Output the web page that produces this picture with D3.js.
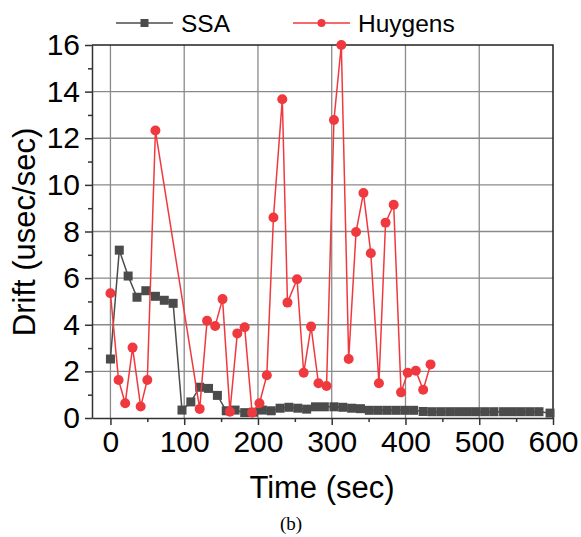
<!DOCTYPE html>
<html>
<head>
<meta charset="utf-8">
<script src="https://cdn.jsdelivr.net/npm/d3@7"></script>
<style>
  body { margin: 0; background: #fff; }
  text { font-family: "Liberation Sans", Arial, sans-serif; }
</style>
</head>
<body>
<script>
// SSA samples (every ~12 s)
var ssaTime = [0, 12, 24, 36, 48, 61, 73, 85, 97, 109, 121, 133, 145, 157, 169, 182, 194, 206, 218, 230,
  242, 254, 266, 278, 290, 303, 315, 327, 339, 351, 363, 375, 387, 399, 411, 424, 436, 448, 460, 472,
  484, 496, 508, 520, 533, 545, 557, 569, 581, 596];
var ssaDrift = [2.53, 7.2, 6.09, 5.18, 5.46, 5.22, 5.05, 4.92, 0.34, 0.69, 1.32, 1.27, 0.97, 0.31, 0.34, 0.23, 0.25, 0.34, 0.31, 0.42,
  0.46, 0.42, 0.38, 0.48, 0.48, 0.48, 0.46, 0.42, 0.4, 0.33, 0.33, 0.33, 0.33, 0.33, 0.33, 0.28, 0.27, 0.27, 0.27, 0.27,
  0.27, 0.27, 0.27, 0.27, 0.27, 0.27, 0.27, 0.27, 0.27, 0.21];

// Huygens samples
var huyTime = [0, 11, 20, 30, 41, 50, 61, 121, 131, 142, 152, 162, 172, 182, 192, 202, 212, 221, 233, 240,
  253, 262, 272, 282, 293, 303, 313, 323, 333, 343, 353, 364, 373, 384, 394, 403, 414, 424, 434];
var huyDrift = [5.35, 1.63, 0.63, 3.02, 0.49, 1.63, 12.33, 0.39, 4.17, 3.95, 5.1, 0.27, 3.63, 3.89, 0.23, 0.63, 1.83, 8.6, 13.67, 4.95,
  5.95, 1.94, 3.92, 1.49, 1.37, 12.78, 16.0, 2.53, 7.98, 9.65, 7.07, 1.49, 8.38, 9.15, 1.1, 1.94, 2.03, 1.21, 2.3];

var xTicks = [0, 100, 200, 300, 400, 500, 600];
var yTicks = [0, 2, 4, 6, 8, 10, 12, 14, 16];

var opts = {width: 581, height: 537, left: 92, right: 553, top: 45, bottom: 418};
var ssaColor = '#4b4b4b', huyColor = '#f0393e';

var svg = d3.select('body').append('svg')
  .attr('width', opts.width)
  .attr('height', opts.height);

var x = d3.scaleLinear().domain([-25, 600]).range([opts.left, opts.right]);
var y = d3.scaleLinear().domain([0, 16]).range([opts.bottom, opts.top]);

// grid
svg.append('g').selectAll('line.gx')
  .data(xTicks.slice(0, -1))
  .enter().append('line')
  .attr('x1', function(d) {return x(d);}).attr('x2', function(d) {return x(d);})
  .attr('y1', opts.top).attr('y2', opts.bottom)
  .attr('stroke', '#8a8a8a').attr('stroke-width', 1.3);
svg.append('g').selectAll('line.gy')
  .data(yTicks.slice(1, -1))
  .enter().append('line')
  .attr('y1', function(d) {return y(d);}).attr('y2', function(d) {return y(d);})
  .attr('x1', opts.left).attr('x2', opts.right)
  .attr('stroke', '#8a8a8a').attr('stroke-width', 1.3);

// frame top / right
svg.append('path')
  .attr('d', 'M' + opts.left + ',' + opts.top + 'H' + opts.right + 'V' + opts.bottom)
  .attr('fill', 'none').attr('stroke', '#222').attr('stroke-width', 1.5);

// axes
var xAxis = svg.append('g').attr('transform', 'translate(0,' + opts.bottom + ')')
  .call(d3.axisBottom(x).tickValues(xTicks).tickSize(7).tickSizeOuter(0).tickPadding(6));
svg.append('g').attr('transform', 'translate(0,' + opts.bottom + ')')
  .call(d3.axisBottom(x).tickValues([50, 150, 250, 350, 450, 550]).tickSize(4).tickFormat('').tickSizeOuter(0))
  .select('.domain').remove();
var yAxis = svg.append('g').attr('transform', 'translate(' + opts.left + ',0)')
  .call(d3.axisLeft(y).tickValues(yTicks).tickSize(7).tickSizeOuter(0).tickPadding(5));
svg.append('g').attr('transform', 'translate(' + opts.left + ',0)')
  .call(d3.axisLeft(y).tickValues([1, 3, 5, 7, 9, 11, 13, 15]).tickSize(4).tickFormat('').tickSizeOuter(0))
  .select('.domain').remove();

svg.selectAll('.domain, .tick line').attr('stroke', '#333').attr('stroke-width', 1.5);
xAxis.selectAll('text').attr('font-size', 30).attr('fill', '#000')
  .attr('font-family', '"Liberation Sans", Arial, sans-serif');
yAxis.selectAll('text').attr('font-size', 30).attr('fill', '#000')
  .attr('font-family', '"Liberation Sans", Arial, sans-serif');

// series
var ssa = ssaTime.map(function(t, i) {return [t, ssaDrift[i]];});
var huy = huyTime.map(function(t, i) {return [t, huyDrift[i]];});
var line = d3.line().x(function(d) {return x(d[0]);}).y(function(d) {return y(d[1]);});

svg.append('path').datum(ssa).attr('d', line)
  .attr('fill', 'none').attr('stroke', ssaColor).attr('stroke-width', 1.5);
svg.append('g').selectAll('rect')
  .data(ssa).enter().append('rect')
  .attr('x', function(d) {return x(d[0]) - 4.5;})
  .attr('y', function(d) {return y(d[1]) - 4.5;})
  .attr('width', 9).attr('height', 9)
  .attr('fill', ssaColor);

svg.append('path').datum(huy).attr('d', line)
  .attr('fill', 'none').attr('stroke', huyColor).attr('stroke-width', 1.5);
svg.append('g').selectAll('circle')
  .data(huy).enter().append('circle')
  .attr('cx', function(d) {return x(d[0]);})
  .attr('cy', function(d) {return y(d[1]);})
  .attr('r', 5)
  .attr('fill', huyColor);

// legend
var legend = [{name: 'SSA', color: ssaColor, shape: 'square', x: 116},
  {name: 'Huygens', color: huyColor, shape: 'circle', x: 293}];
var lg = svg.append('g').selectAll('g').data(legend).enter().append('g')
  .attr('transform', function(d) {return 'translate(' + d.x + ',23)';});
lg.append('line').attr('x1', 0).attr('x2', 57)
  .attr('stroke', function(d) {return d.color;}).attr('stroke-width', 1.5);
lg.filter(function(d) {return d.shape === 'square';}).append('rect')
  .attr('x', 24.5).attr('y', -4).attr('width', 8).attr('height', 8)
  .attr('fill', function(d) {return d.color;});
lg.filter(function(d) {return d.shape === 'circle';}).append('circle')
  .attr('cx', 28.5).attr('r', 4)
  .attr('fill', function(d) {return d.color;});
lg.append('text').attr('x', 65).attr('y', 9)
  .attr('font-size', 24.5)
  .text(function(d) {return d.name;});

// titles
svg.append('text')
  .attr('transform', 'translate(35,232) rotate(-90)')
  .attr('text-anchor', 'middle')
  .attr('font-size', 31)
  .text('Drift (usec/sec)');
svg.append('text')
  .attr('x', 322).attr('y', 498)
  .attr('text-anchor', 'middle')
  .attr('font-size', 31)
  .text('Time (sec)');
svg.append('text')
  .attr('x', 291).attr('y', 530)
  .attr('text-anchor', 'middle')
  .attr('font-size', 19)
  .style('font-family', '"Liberation Serif", "Times New Roman", serif')
  .text('(b)');
</script>
</body>
</html>
